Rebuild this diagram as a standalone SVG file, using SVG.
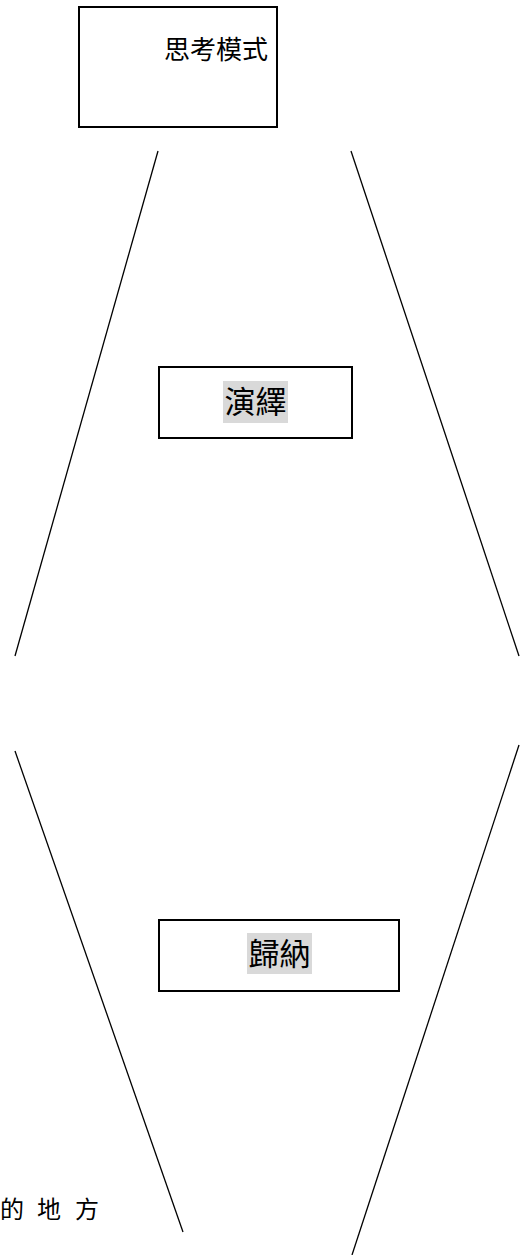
<svg xmlns="http://www.w3.org/2000/svg" width="521" height="1255" viewBox="0 0 521 1255">
<style>
.box{fill:#fff;stroke:#000;stroke-width:2}
.ln{stroke:#000;stroke-width:1.3;fill:none}
.t{font-family:"Noto Sans CJK TC","Noto Sans CJK SC",sans-serif;fill:#000;text-anchor:middle}
.hl{fill:#d9d9d9}
</style>
<rect width="521" height="1255" fill="#fff"/>
<g id="connectors">
<line class="ln" x1="158" y1="151" x2="15" y2="656"/>
<line class="ln" x1="351" y1="151" x2="519" y2="656"/>
<line class="ln" x1="15" y1="751" x2="183" y2="1232"/>
<line class="ln" x1="519" y1="745" x2="352" y2="1255"/>
</g>
<g id="node-top">
<rect class="box" x="79" y="7" width="198" height="120"/>
<text class="t" x="216" y="59" font-size="26">思考模式</text>
</g>
<g id="node-deduction">
<rect class="box" x="159" y="367" width="193" height="71"/>
<rect class="hl" x="223" y="381" width="65" height="42"/>
<text class="t" x="255.5" y="413" font-size="31">演繹</text>
</g>
<g id="node-induction">
<rect class="box" x="159" y="920" width="240" height="71"/>
<rect class="hl" x="247" y="933" width="65" height="41"/>
<text class="t" x="279.5" y="965" font-size="31">歸納</text>
</g>
<g id="note">
<text font-family="'Noto Sans CJK TC',sans-serif" font-size="24" y="1218"><tspan x="0">的</tspan><tspan x="37">地</tspan><tspan x="75">方</tspan></text>
</g>
</svg>
